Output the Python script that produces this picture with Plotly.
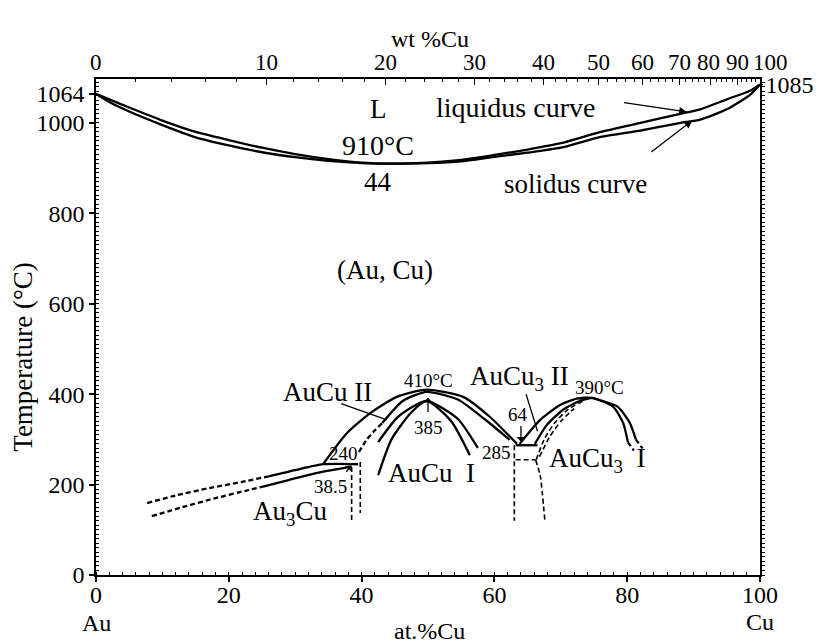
import plotly.graph_objects as go

# ---------------- data (at.% Cu, Temperature °C) ----------------
liq_x = [0, 2, 5, 10, 15, 20, 25, 30, 35, 40, 44, 50, 55, 60, 65, 70, 76, 82, 88, 91, 95, 98.5, 100]
liq_y = [1064, 1052, 1034, 1005, 980, 962, 945, 931, 920, 912, 910, 912, 918, 929, 941, 955, 980, 1000, 1020, 1030, 1052, 1071, 1085]
sol_x = [0, 2, 5, 10, 15, 20, 25, 30, 35, 40, 44, 50, 55, 60, 65, 70, 76, 82, 88, 91, 95, 98.5, 100]
sol_y = [1064, 1046, 1025, 995, 968, 950, 935, 924, 916, 911, 910, 911, 915, 925, 934, 945, 969, 983, 1000, 1007, 1030, 1062, 1085]

# Au3Cu boundaries (dashed part, solid part)
au3_up_dash_x = [7.7, 12, 17, 22, 26]
au3_up_dash_y = [159, 176, 192, 206, 218]
au3_up_x = [26, 30, 34.2, 39.5]
au3_up_y = [218, 232, 245, 245]
au3_lo_dash_x = [8.4, 13, 18, 23, 25]
au3_lo_dash_y = [130, 150, 170, 188, 195]
au3_lo_x = [25, 29, 33, 38.3]
au3_lo_y = [195, 210, 225, 239]
vd1_x = [38.5, 38.5]
vd1_y = [239, 120]
vd2_x = [39.8, 39.8]
vd2_y = [250, 137]

# AuCu II outer dome
cu2_out_x = [34.2, 37.8, 41.3, 45.3, 49.8, 55.3, 59.3, 63.4]
cu2_out_y = [245, 314, 358, 394, 410, 394, 350, 290]
# AuCu II inner dome
cu2_in_dash_x = [39.6, 40.8, 42.0, 43.1]
cu2_in_dash_y = [272, 300, 320, 336]
cu2_in_x = [43.1, 46.2, 49.8, 54.5, 58.5, 62.3]
cu2_in_y = [336, 385, 405, 388, 345, 299]
# AuCu I dome
cu1_a_x = [42.5, 45.5, 49.8, 53.5, 56.3]
cu1_a_y = [294, 350, 385, 340, 265]
cu1_b_x = [42.5, 44.5, 47.5, 49.8, 54.5, 57.5]
cu1_b_y = [221, 300, 360, 385, 345, 281]

# 285 / AuCu3 region
h285_x = [63.2, 66.5]
h285_y = [287, 287]
v285_dash_x = [63.0, 63.0]
v285_dash_y = [287, 120]
h2_dash_x = [63.2, 66.2]
h2_dash_y = [255, 255]
c2_dash_x = [66.2, 66.9, 67.6]
c2_dash_y = [255, 220, 120]

cu3_out_x = [63.8, 66.9, 69.9, 72.4, 74.7, 77.9, 79.4, 80.1]
cu3_out_y = [290, 343, 376, 390, 392, 372, 336, 294]
cu3_out_dash_x = [80.1, 81.0]
cu3_out_dash_y = [294, 275]
cu3_b_x = [74.7, 78.6, 80.4, 81.3]
cu3_b_y = [392, 372, 336, 300]
cu3_b_dash_x = [81.3, 82.3]
cu3_b_dash_y = [300, 280]
cu3_in1_x = [66.1, 67.9, 70.3, 73.0, 74.7]
cu3_in1_y = [290, 332, 365, 386, 392]
cu3_in2_dash_x = [66.3, 67.5, 69.0, 71.0, 73.5]
cu3_in2_dash_y = [255, 300, 335, 365, 386]
cu3_in3_dash_x = [66.8, 68.3, 70.0, 72.0]
cu3_in3_dash_y = [262, 305, 340, 368]

# top axis (wt.% Cu) tick labels
wt_labels = [0, 10, 20, 30, 40, 50, 60, 70, 80, 90, 100]
wt_label_shift = [0, 0, 0, 0, 0, 0, 0, 0, -2, 0, 10]
M_CU, M_AU = 63.546, 196.967


def wt_to_at(w):
    if w <= 0:
        return 0.0
    if w >= 100:
        return 100.0
    a = w / M_CU
    b = (100 - w) / M_AU
    return 100 * a / (a + b)


wt_pos = [wt_to_at(w) for w in wt_labels]
wt_minor = [wt_to_at(w) for w in range(0, 101, 2) if w % 10 != 0]

x_ticks = [0, 20, 40, 60, 80, 100]
y_ticks = [0, 200, 400, 600, 800, 1000, 1064]

FONT = "Liberation Serif"
LC = "black"
LW = 2.3
DASH = "5px,3px"

fig = go.Figure()


def line(x, y, dash="solid", w=LW):
    fig.add_trace(go.Scatter(x=x, y=y, mode="lines", line=dict(color=LC, width=w, dash=dash, shape="spline", smoothing=0.6),
                             showlegend=False, hoverinfo="skip"))


line(liq_x, liq_y)
line(sol_x, sol_y)
line(au3_up_dash_x, au3_up_dash_y, DASH)
line(au3_up_x, au3_up_y)
line(au3_lo_dash_x, au3_lo_dash_y, DASH)
line(au3_lo_x, au3_lo_y)
line(vd1_x, vd1_y, DASH, 1.6)
line(vd2_x, vd2_y, DASH, 1.6)
line(cu2_out_x, cu2_out_y)
line(cu2_in_dash_x, cu2_in_dash_y, DASH)
line(cu2_in_x, cu2_in_y)
line(cu1_a_x, cu1_a_y)
line(cu1_b_x, cu1_b_y)
line(h285_x, h285_y)
line(v285_dash_x, v285_dash_y, DASH, 1.6)
line(h2_dash_x, h2_dash_y, DASH, 1.6)
line(c2_dash_x, c2_dash_y, DASH, 1.6)
line(cu3_out_x, cu3_out_y)
line(cu3_out_dash_x, cu3_out_dash_y, DASH)
line(cu3_b_x, cu3_b_y)
line(cu3_b_dash_x, cu3_b_dash_y, DASH)
line(cu3_in1_x, cu3_in1_y)
line(cu3_in2_dash_x, cu3_in2_dash_y, DASH, 1.6)
line(cu3_in3_dash_x, cu3_in3_dash_y, DASH, 1.6)

# invisible traces to activate secondary axes
fig.add_trace(go.Scatter(x=[0, 100], y=[0, 0], xaxis="x2", mode="lines", line=dict(width=0), showlegend=False, hoverinfo="skip"))
fig.add_trace(go.Scatter(x=[0, 100], y=[0, 0], yaxis="y2", mode="lines", line=dict(width=0), showlegend=False, hoverinfo="skip"))

big = dict(family=FONT, size=27, color=LC)
small = dict(family=FONT, size=19, color=LC)


def txt(x, y, s, font=big, **kw):
    fig.add_annotation(x=x, y=y, xref="x", yref="y", text=s, showarrow=False, font=font,
                       xanchor="center", yanchor="middle", **kw)


def arrow(x, y, ax, ay, head=2):
    fig.add_annotation(x=x, y=y, ax=ax, ay=ay, xref="x", yref="y", axref="x", ayref="y", text="",
                       showarrow=True, arrowhead=head, arrowsize=1.2, arrowwidth=1.3, arrowcolor=LC)


txt(42.5, 1030, "L")
txt(63.2, 1035, "liquidus curve", dict(family=FONT, size=28, color=LC))
txt(42.5, 950, "910°C", dict(family=FONT, size=28, color=LC))
txt(42.5, 870, "44")
txt(72.2, 865, "solidus curve")
txt(43.5, 675, "(Au, Cu)")
txt(34.8, 405, "AuCu II")
txt(50, 430, "410°C", small)
txt(63.8, 435, "AuCu<sub>3</sub> II")
txt(75.8, 415, "390°C", small)
txt(63.5, 355, "64", small)
txt(50, 327, "385", small)
txt(60.3, 272, "285", small)
txt(37.2, 268, "240", small)
txt(50.6, 225, "AuCu  I")
txt(75.5, 255, "AuCu<sub>3</sub>  I")
txt(35.3, 195, "38.5", small)
txt(29.2, 137, "Au<sub>3</sub>Cu")

arrow(89.0, 1024, 79.3, 1045)
arrow(89.8, 1005, 83.4, 933)
arrow(50, 392, 50, 357, head=1)
arrow(64.0, 295, 64.0, 333, head=1)
arrow(38.5, 242, 37.5, 225, head=1)
# leader lines
fig.add_annotation(x=43.8, y=343, ax=36.7, ay=380, xref="x", yref="y", axref="x", ayref="y", text="",
                   showarrow=True, arrowhead=0, arrowwidth=1.3, arrowcolor=LC)
fig.add_annotation(x=66.5, y=318, ax=64.7, ay=403, xref="x", yref="y", axref="x", ayref="y", text="",
                   showarrow=True, arrowhead=0, arrowwidth=1.3, arrowcolor=LC)

# top (wt.%) tick labels
for w, p, s in zip(wt_labels, wt_pos, wt_label_shift):
    fig.add_annotation(x=p, y=1.0, xref="x", yref="paper", text=str(w), showarrow=False,
                       font=dict(family=FONT, size=23, color=LC), xanchor="center", yanchor="bottom",
                       xshift=s, yshift=2)

# axis side labels
lab24 = dict(family=FONT, size=24, color=LC)
fig.add_annotation(x=0, y=-0.096, xref="x", yref="paper", text="Au", showarrow=False, font=lab24,
                   xanchor="center", yanchor="middle")
fig.add_annotation(x=100, y=-0.094, xref="x", yref="paper", text="Cu", showarrow=False, font=lab24,
                   xanchor="center", yanchor="middle")
fig.add_annotation(x=50.3, y=-0.113, xref="x", yref="paper", text="at.%Cu", showarrow=False, font=lab24,
                   xanchor="center", yanchor="middle")
fig.add_annotation(x=50.3, y=1.08, xref="x", yref="paper", text="wt %Cu", showarrow=False, font=lab24,
                   xanchor="center", yanchor="middle")
fig.add_annotation(x=-0.11, y=0.44, xref="paper", yref="paper", text="Temperature (°C)", showarrow=False,
                   font=dict(family=FONT, size=27, color=LC), textangle=-90, xanchor="center", yanchor="middle")

axis_common = dict(showgrid=False, zeroline=False, showline=True, linecolor=LC, linewidth=1.5, automargin=False,
                   tickcolor=LC, tickangle=0)
tick24 = dict(family=FONT, size=24, color=LC)

fig.update_layout(
    width=818, height=644,
    margin=dict(l=96, r=58, t=79, b=69),
    paper_bgcolor="white", plot_bgcolor="white",
    showlegend=False,
    xaxis=dict(range=[0, 100], tickmode="array", tickvals=x_ticks, ticks="outside", ticklen=5, tickwidth=1.5,
               ticklabelstandoff=-8, tickfont=tick24,
               minor=dict(dtick=2, ticks="inside", ticklen=3, tickcolor=LC, tickwidth=1),
               **axis_common),
    xaxis2=dict(range=[0, 100], overlaying="x", side="top", tickmode="array", tickvals=wt_pos,
                showticklabels=False, ticks="inside", ticklen=6, tickwidth=1.2,
                minor=dict(tickmode="array", tickvals=wt_minor, ticks="inside", ticklen=3, tickcolor=LC, tickwidth=1),
                **axis_common),
    yaxis=dict(range=[0, 1097], tickmode="array", tickvals=y_ticks, ticks="outside", ticklen=5, tickwidth=1.5,
               tickfont=tick24,
               minor=dict(dtick=10, ticks="inside", ticklen=3, tickcolor=LC, tickwidth=1),
               **axis_common),
    yaxis2=dict(range=[0, 1097], overlaying="y", side="right", tickmode="array", tickvals=[1085], ticks="outside",
                ticklen=1, tickwidth=1.2, ticklabelstandoff=-2,
                tickfont=dict(family=FONT, size=24, color=LC),
                minor=dict(dtick=10, ticks="outside", ticklen=3, tickcolor=LC, tickwidth=1),
                **axis_common),
)

# remove the default page margin so the 818x644 figure fills the window exactly
fig.write_html("out.html", config={"displayModeBar": False},
               post_script="document.body.style.margin='0';document.body.style.overflow='hidden';")
